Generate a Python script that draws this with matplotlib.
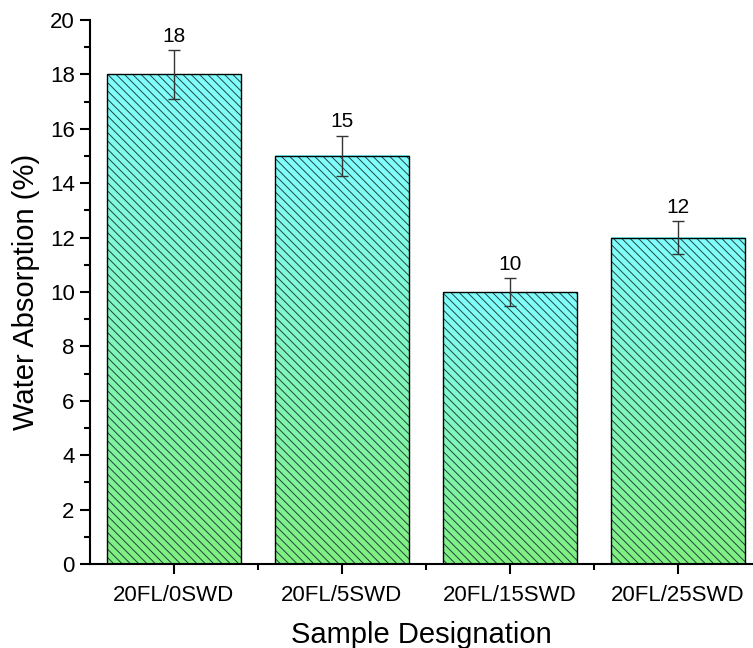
import matplotlib
matplotlib.use("Agg")
import matplotlib.pyplot as plt
import numpy as np
from matplotlib.colors import LinearSegmentedColormap
from matplotlib.ticker import MultipleLocator, FixedLocator

categories = ["20FL/0SWD", "20FL/5SWD", "20FL/15SWD", "20FL/25SWD"]
values = [18, 15, 10, 12]
errors = [0.9, 0.75, 0.5, 0.6]
value_labels = ["18", "15", "10", "12"]

plt.rcParams['font.family'] = ['Liberation Sans', 'DejaVu Sans']
plt.rcParams['hatch.linewidth'] = 0.7

fig = plt.figure(figsize=(7.53, 6.48), dpi=100)
ax = fig.add_axes([90/753, 84/648, 663/753, 544/648])

cmap = LinearSegmentedColormap.from_list("cg", ["#80F080", "#80FFFF"])
grad = np.linspace(0, 1, 256).reshape(-1, 1)
x = np.arange(len(categories))
width = 0.8

for xi, v in zip(x, values):
    ax.imshow(grad, cmap=cmap, origin='lower', aspect='auto',
              extent=[xi - width/2, xi + width/2, 0, v], zorder=1)

ax.bar(x, values, width=width, facecolor='none', edgecolor='#244440',
       linewidth=0, hatch='\\\\\\\\', zorder=2)
ax.bar(x, values, width=width, facecolor='none', edgecolor='black',
       linewidth=1.0, zorder=3)
ax.errorbar(x, values, yerr=errors, fmt='none', ecolor='#333333',
            elinewidth=1.0, capsize=4, capthick=1.0, zorder=4)
for xi, v, e, lab in zip(x, values, errors, value_labels):
    ax.annotate(lab, (xi, v + e), xytext=(0, 3), textcoords='offset points',
                ha='center', va='bottom', fontsize=15)

ax.set_xlim(-0.5, -0.5 + 663/168)
ax.set_ylim(0, 20)
ax.yaxis.set_major_locator(MultipleLocator(2))
ax.yaxis.set_minor_locator(MultipleLocator(1))
ax.xaxis.set_major_locator(FixedLocator(x))
ax.xaxis.set_minor_locator(FixedLocator(x[:-1] + 0.5))
ax.set_xticklabels(categories)
ax.tick_params(axis='both', which='major', direction='out', length=7, width=1.5,
               labelsize=16)
ax.tick_params(axis='both', which='minor', direction='out', length=4, width=1.5)
ax.tick_params(axis='x', which='major', pad=8)
ax.tick_params(axis='y', which='major', pad=4)
for s in ['top', 'right']:
    ax.spines[s].set_visible(False)
for s in ['left', 'bottom']:
    ax.spines[s].set_linewidth(1.5)
ax.set_xlabel("Sample Designation", fontsize=21, labelpad=11)
ax.set_ylabel("Water Absorption (%)", fontsize=21, labelpad=7)

fig.savefig("out.png", dpi=100)
